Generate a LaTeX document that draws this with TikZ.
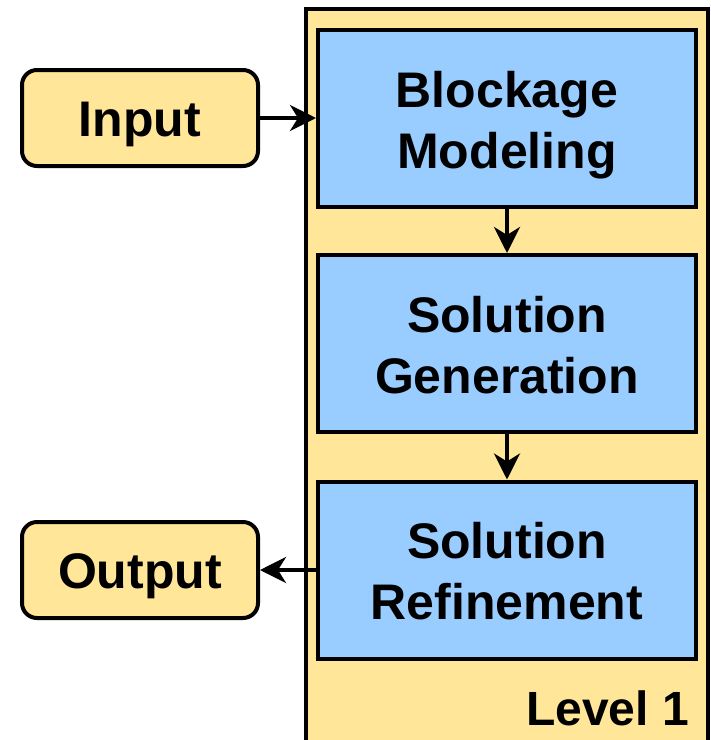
\documentclass[tikz,border=0pt]{standalone}
\usepackage{fontspec}
\setmainfont{Liberation Sans}
\usetikzlibrary{arrows.meta}
\definecolor{ylw}{HTML}{FFE699}
\definecolor{blu}{HTML}{99CCFF}
\begin{document}
\begin{tikzpicture}[x=1pt,y=-1pt,
  stage/.style={draw=black,line width=4pt,fill=blu,minimum width=378pt,minimum height=177pt,inner sep=0pt,align=center,text height=99pt,text depth=0pt,font=\fontsize{50}{61}\selectfont\bfseries},
  io/.style={draw=black,line width=4pt,fill=ylw,rounded corners=15pt,minimum width=236pt,minimum height=96pt,inner sep=0pt,text height=36pt,text depth=0pt,font=\fontsize{50}{61}\selectfont\bfseries},
  flow/.style={line width=4pt,-{Stealth[length=26pt,width=26pt,inset=8pt]}}]
\useasboundingbox (0,0) rectangle (711,740);
\clip (0,0) rectangle (711,740);
\draw[line width=4pt,fill=ylw] (306,9) rectangle (708,780);
\node[stage] (b1) at (507,118.5) {Blockage\\Modeling};
\node[stage] (b2) at (507,343.5) {Solution\\Generation};
\node[stage] (b3) at (507,570) {Solution\\Refinement};
\node[io] (in) at (140,118) {Input};
\node[io] (out) at (140,570) {Output};
\node[anchor=base east,inner sep=0pt,font=\fontsize{48}{60}\selectfont\bfseries] (lvl) at (689,725) {Level 1};
\draw[flow] (in.east) -- (b1.west |- in.east);
\draw[flow] (b1.south) -- (b2.north);
\draw[flow] (b2.south) -- (b3.north);
\draw[flow] (b3.west) -- (out.east);
\end{tikzpicture}
\end{document}
